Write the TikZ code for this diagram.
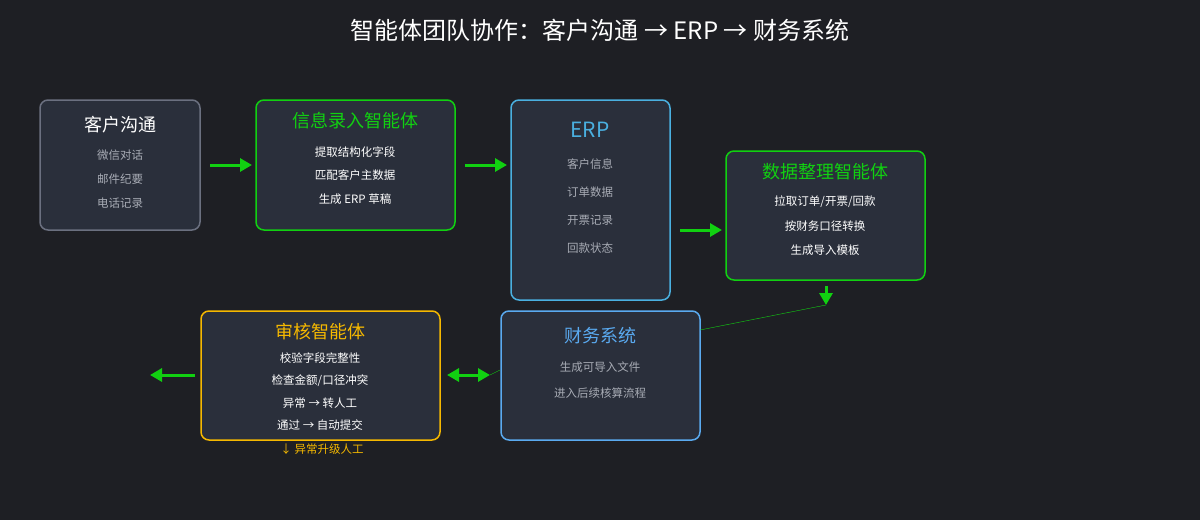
\documentclass[tikz,border=0pt]{standalone}
\usepackage{fontspec}
\setmainfont{Noto Sans CJK SC}
\usepackage{tikz}
\usetikzlibrary{arrows.meta}
\definecolor{bgc}{HTML}{1E1F24}
\definecolor{boxc}{HTML}{2A2F3B}
\definecolor{grn}{HTML}{11D011}
\definecolor{erpc}{HTML}{4AB0E0}
\definecolor{finc}{HTML}{5AAAF0}
\definecolor{org}{HTML}{F5B800}
\definecolor{gbd}{HTML}{6B7080}
\definecolor{itm}{HTML}{A8ACB5}
\tikzset{
  box/.style={draw=#1, line width=1.5pt, fill=boxc, rounded corners=8pt},
  ttl/.style={font=\fontsize{18}{20}\selectfont, text=#1},
  item/.style={font=\fontsize{11.5}{13}\selectfont, text=itm},
  witem/.style={font=\fontsize{11.5}{13}\selectfont, text=white},
  flow/.style={draw=grn, line width=3pt, -{Triangle[length=12pt,width=13pt]}},
}
\begin{document}
\begin{tikzpicture}[x=1pt,y=-1pt]
            \fill[bgc] (0,0) rectangle (1200,520);
            \useasboundingbox (0,0) rectangle (1200,520);
            \node[font=\fontsize{24}{26}\selectfont, text=white] (title) at (600,30) {智能体团队协作：客户沟通 → ERP → 财务系统};
            % boxes
            \draw[box=gbd] (40,100) rectangle (200,230);
            \draw[box=grn] (256,100) rectangle (455,230);
            \draw[box=erpc] (511,100) rectangle (670,300);
            \draw[box=grn] (726,151) rectangle (925,280);
            \draw[box=org] (201,311) rectangle (440,440);
            \draw[box=finc] (501,311) rectangle (700,440);
            % titles
            \node[ttl=white] (kehu) at (120,125) {客户沟通};
            \node[ttl=grn] (luru) at (355,121) {信息录入智能体};
            \node[ttl=erpc, font=\fontsize{21}{23}\selectfont] (erp) at (590,130) {ERP};
            \node[ttl=grn] (zhengli) at (825,172) {数据整理智能体};
            \node[ttl=org] (shenhe) at (320,332) {审核智能体};
            \node[ttl=finc] (caiwu) at (600,336) {财务系统};
            % items
            \foreach \t [count=\i] in {微信对话,邮件纪要,电话记录}
              \node[item] (kehu\i) at (120,131+24*\i) {\t};
            \foreach \t [count=\i] in {提取结构化字段,匹配客户主数据,生成 ERP 草稿}
              \node[witem] (luru\i) at (355,128.5+23.5*\i) {\t};
            \foreach \t [count=\i] in {客户信息,订单数据,开票记录,回款状态}
              \node[item] (erp\i) at (590,136+28*\i) {\t};
            \foreach \t [count=\i] in {拉取订单/开票/回款,按财务口径转换,生成导入模板}
              \node[witem] (zhengli\i) at (825,178+24*\i) {\t};
            \foreach \t [count=\i] in {校验字段完整性,检查金额/口径冲突,异常 → 转人工,通过 → 自动提交}
              \node[witem] (shenhe\i) at (320,336+22.3*\i) {\t};
            \foreach \t [count=\i] in {生成可导入文件,进入后续核算流程}
              \node[item] (caiwu\i) at (600,341+26*\i) {\t};
            \node[font=\fontsize{11.5}{13}\selectfont, text=org] (rengong) at (322,449) {↓ 异常升级人工};
            % connectors
            \coordinate (a1) at (210,165); \coordinate (a2) at (252,165);
            \coordinate (b1) at (465,165); \coordinate (b2) at (507,165);
            \coordinate (c1) at (680,230); \coordinate (c2) at (722,230);
            \coordinate (d1) at (826,286); \coordinate (d2) at (826,305);
            \coordinate (e1) at (195,375); \coordinate (e2) at (150,375);
            \coordinate (f1) at (447,375); \coordinate (f2) at (490,375);
            \coordinate (g1) at (700,330); \coordinate (g2) at (500,370);
            \draw[flow] (a1) -- (a2);
            \draw[flow] (b1) -- (b2);
            \draw[flow] (c1) -- (c2);
            \draw[flow] (d1) -- (d2);
            \draw[flow] (e1) -- (e2);
            \draw[flow, {Triangle[length=12pt,width=13pt]}-{Triangle[length=12pt,width=13pt]}] (f1) -- (f2);
            \draw[grn, thin] (g1) -- (d2);
            \draw[grn, thin] (f2) -- (g2);
        \end{tikzpicture}
\end{document}
